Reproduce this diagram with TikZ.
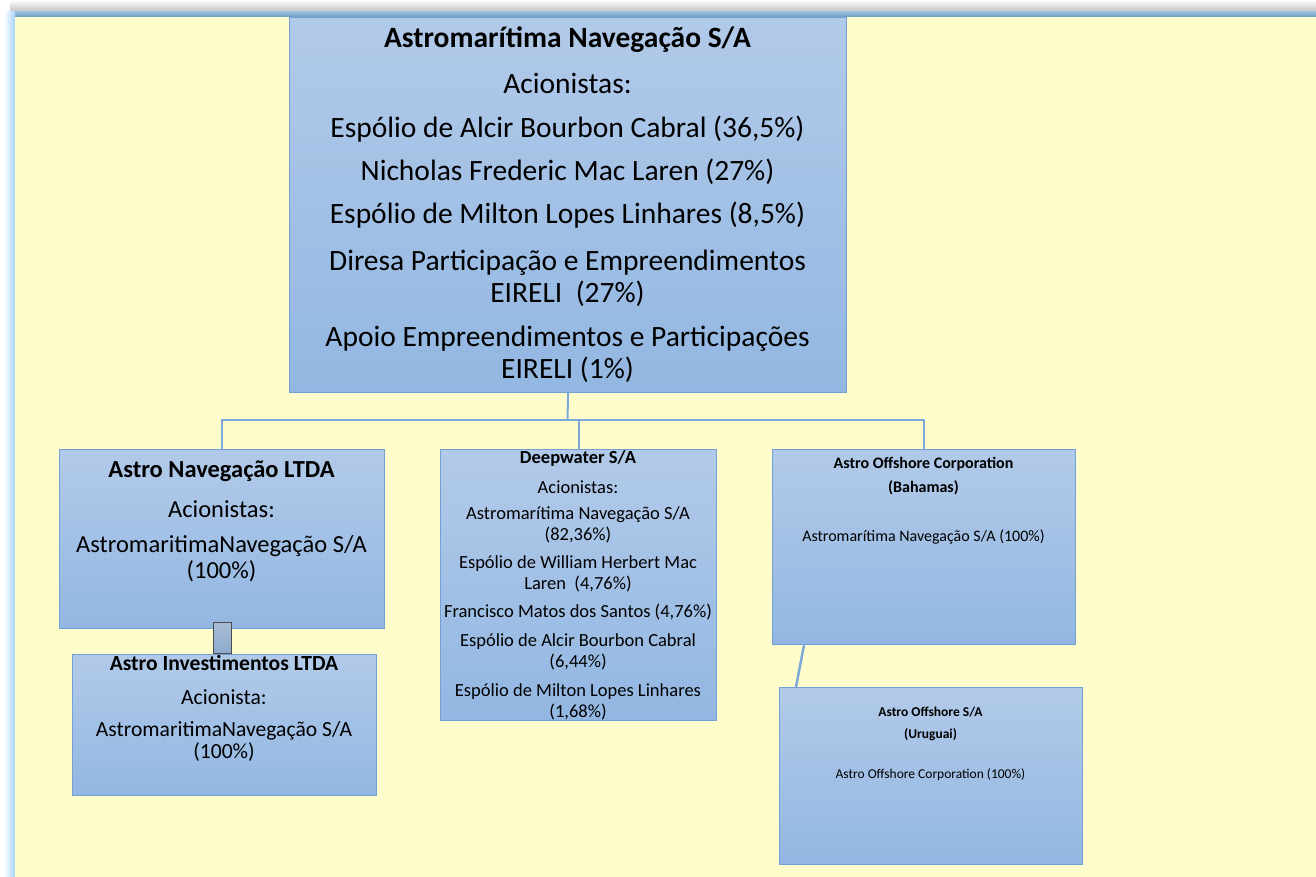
\documentclass[tikz,border=0pt]{standalone}
\usepackage{fontspec}
\setmainfont{Carlito}
\usetikzlibrary{calc}
\definecolor{fundo}{RGB}{255,253,204}
\definecolor{caixatopo}{RGB}{178,202,233}
\definecolor{caixabase}{RGB}{146,183,226}
\definecolor{borda}{RGB}{116,160,212}
\definecolor{ligacao}{RGB}{125,168,218}
\definecolor{molduraazul}{RGB}{110,160,200}
\definecolor{molduraclara}{RGB}{165,210,250}
\begin{document}
\begin{tikzpicture}[x=1pt,y=-1pt,
    caixa/.style={draw=borda, line width=1.2pt, top color=caixatopo, bottom color=caixabase,
        rectangle, anchor=north west, inner sep=0pt},
    texto/.style={align=center, inner sep=0pt, text=black},
    ligar/.style={draw=ligacao, line width=2pt}]
    \useasboundingbox (0,0) rectangle (1316,877);

    % Moldura
    \fill[white] (0,0) rectangle (1316,877);
    \shade[top color=white, bottom color=black!25] (10,0) rectangle (1316,12);
    \shade[top color=molduraazul!70, bottom color=molduraazul] (10,12) rectangle (1316,17);
    \shade[left color=white, right color=molduraclara] (4,12) rectangle (15,877);
    \fill[fundo] (15,17) rectangle (1316,877);

    % Caixas
    \node[caixa, minimum width=557pt, minimum height=375pt] (astromar) at (289,17) {};
    \node[caixa, minimum width=325pt, minimum height=179pt] (astronav) at (59,449) {};
    \node[caixa, minimum width=304pt, minimum height=141pt] (astroinv) at (72,654) {};
    \node[caixa, minimum width=276pt, minimum height=271pt] (deepwater) at (440,449) {};
    \node[caixa, minimum width=303pt, minimum height=195pt] (offcorp) at (772,449) {};
    \node[caixa, minimum width=303pt, minimum height=177pt] (offsa) at (779,687) {};

    % Ligacoes
    \coordinate (barra) at (567.5,420);
    \draw[ligar] (astromar.south) -- (barra);
    \draw[ligar] (barra) -| (astronav.north);
    \draw[ligar] (barra) -| (deepwater.north);
    \draw[ligar] (barra) -| (offcorp.north);
    \draw[ligar, line width=2.5pt] ($(offcorp.south west)+(32,0)$) -- ($(offsa.north west)+(17,0)$);
    \node[draw=black!70, line width=0.8pt, top color=caixatopo!80!gray, bottom color=caixabase!80!gray,
        minimum width=18pt, minimum height=31pt, inner sep=0pt] (elo) at (222,637.5) {};

    % Astromaritima Navegacao S/A
    \begin{scope}[every node/.append style={texto, font=\fontsize{29.5}{32}\selectfont}]
        \node (t0) at (567.5,40) {\textbf{Astromarítima Navegação S/A}};
        \node (t1) at (567.5,83) {Acionistas:};
        \node (t2) at (567.5,129) {Espólio de Alcir Bourbon Cabral (36,5\%)};
        \node (t3) at (567.5,172) {Nicholas Frederic Mac Laren (27\%)};
        \node (t4) at (567.5,215) {Espólio de Milton Lopes Linhares (8,5\%)};
        \node (t5) at (567.5,278) {Diresa Participação e Empreendimentos\\EIRELI\ \ (27\%)};
        \node (t6) at (567.5,354) {Apoio Empreendimentos e Participações\\EIRELI (1\%)};
    \end{scope}

    % Astro Navegacao LTDA
    \begin{scope}[every node/.append style={texto, font=\fontsize{24.5}{26}\selectfont}]
        \node (n0) at (221.5,471) {\textbf{Astro Navegação LTDA}};
        \node (n1) at (221.5,509) {Acionistas:};
        \node (n2) at (221.5,559) {AstromaritimaNavegação S/A\\(100\%)};
    \end{scope}

    % Astro Investimentos LTDA
    \begin{scope}[every node/.append style={texto, font=\fontsize{21.6}{22}\selectfont}]
        \node (i0) at (224,663) {\textbf{Astro Investimentos LTDA}};
        \node (i1) at (224,697) {Acionista:};
        \node (i2) at (224,741) {AstromaritimaNavegação S/A\\(100\%)};
    \end{scope}

    % Deepwater S/A
    \begin{scope}[every node/.append style={texto, font=\fontsize{18.5}{21}\selectfont}]
        \node (d0) at (578,458) {\textbf{Deepwater S/A}};
        \node (d1) at (578,487) {Acionistas:};
        \node (d2) at (578,525) {Astromarítima Navegação S/A\\(82,36\%)};
        \node (d3) at (578,573.5) {Espólio de William Herbert Mac\\Laren\ \ (4,76\%)};
        \node (d4) at (578,612) {Francisco Matos dos Santos (4,76\%)};
        \node (d5) at (578,651.5) {Espólio de Alcir Bourbon Cabral\\(6,44\%)};
        \node (d6) at (578,701.5) {Espólio de Milton Lopes Linhares\\(1,68\%)};
    \end{scope}

    % Astro Offshore Corporation
    \begin{scope}[every node/.append style={texto, font=\fontsize{16}{24}\selectfont}]
        \node (c0) at (923.5,476) {\textbf{Astro Offshore Corporation}\\\textbf{(Bahamas)}};
        \node (c1) at (923.5,537) {Astromarítima Navegação S/A (100\%)};
    \end{scope}

    % Astro Offshore S/A
    \begin{scope}[every node/.append style={texto, font=\fontsize{13.5}{22}\selectfont}]
        \node (u0) at (930.5,724) {\textbf{Astro Offshore S/A}\\\textbf{(Uruguai)}};
        \node (u1) at (930.5,775) {Astro Offshore Corporation (100\%)};
    \end{scope}
\end{tikzpicture}
\end{document}
